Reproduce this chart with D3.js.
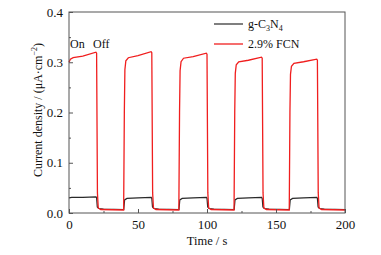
<!DOCTYPE html>
<html>
<head>
<meta charset="utf-8">
<script src="https://cdn.jsdelivr.net/npm/d3@7"></script>
<style>
  body { margin: 0; background: #fff; }
  text { font-family: "Liberation Serif", "Times New Roman", serif; }
</style>
</head>
<body>
<svg id="chart" width="381" height="255"></svg>
<script>
// values: [time (s), current density (uA/cm2)]
var gcnPoints = [
  [0, 0.030], [2, 0.031], [10, 0.031], [19.6, 0.032], [20, 0.030], [20.5, 0.012],
  [21.5, 0.009], [25, 0.008], [39.7, 0.007], [40.3, 0.026], [42, 0.029], [50, 0.030],
  [59.6, 0.031], [60, 0.029], [60.5, 0.012], [61.5, 0.009], [65, 0.008], [79.7, 0.007],
  [80.3, 0.026], [82, 0.029], [90, 0.030], [99.6, 0.031], [100, 0.029], [100.5, 0.012],
  [101.5, 0.009], [105, 0.008], [119.7, 0.007], [120.3, 0.026], [122, 0.029], [130, 0.030],
  [139.6, 0.031], [140, 0.029], [140.5, 0.012], [141.5, 0.009], [145, 0.008], [159.7, 0.007],
  [160.3, 0.026], [162, 0.029], [170, 0.030], [179.6, 0.031], [180, 0.029], [180.5, 0.012],
  [181.5, 0.009], [185, 0.008], [200, 0.007]
];

var fcnPoints = [
  [0, 0.300], [1, 0.306], [3, 0.309], [10, 0.312], [19.5, 0.320], [20, 0.318],
  [20.6, 0.040], [21.2, 0.010], [23, 0.007], [39.6, 0.006], [40.1, 0.200], [40.5, 0.285],
  [41.2, 0.303], [43, 0.309], [50, 0.313], [59.5, 0.321], [60, 0.319], [60.6, 0.040],
  [61.2, 0.010], [63, 0.007], [79.6, 0.006], [80.1, 0.200], [80.5, 0.283], [81.2, 0.301],
  [83, 0.308], [90, 0.311], [99.5, 0.318], [100, 0.316], [100.6, 0.040], [101.2, 0.010],
  [103, 0.007], [119.6, 0.006], [120.1, 0.200], [120.5, 0.278], [121.2, 0.295],
  [123, 0.301], [130, 0.304], [139.5, 0.310], [140, 0.308], [140.6, 0.040], [141.2, 0.010],
  [143, 0.007], [159.6, 0.006], [160.1, 0.200], [160.5, 0.276], [161.2, 0.292],
  [163, 0.298], [170, 0.301], [179.5, 0.306], [180, 0.304], [180.6, 0.040], [181.2, 0.010],
  [183, 0.007], [200, 0.006]
];

var xTicks = [0, 50, 100, 150, 200];
var xMinor = [25, 75, 125, 175];
var yTicks = [0.0, 0.1, 0.2, 0.3, 0.4];
var yMinor = [0.05, 0.15, 0.25, 0.35];

var svg = d3.select("#chart");
var plotLeft = 69, plotRight = 345, plotTop = 12, plotBottom = 213;

var x = d3.scaleLinear().domain([0, 200]).range([plotLeft, plotRight]);
var y = d3.scaleLinear().domain([0, 0.4]).range([plotBottom, plotTop]);

var line = d3.line()
    .x(function(d) { return x(d[0]); })
    .y(function(d) { return y(d[1]); });

// series
svg.append("path")
    .datum(gcnPoints)
    .attr("d", line)
    .attr("fill", "none")
    .attr("stroke", "#2a2a2a")
    .attr("stroke-width", 1.2);

svg.append("path")
    .datum(fcnPoints)
    .attr("d", line)
    .attr("fill", "none")
    .attr("stroke", "#f01e1e")
    .attr("stroke-width", 1.3);

// axes, ticks inward
var frameColor = "#555";

svg.append("g")
    .attr("transform", "translate(0," + plotBottom + ")")
    .call(d3.axisBottom(x).tickValues(xTicks).tickSize(-4).tickPadding(7)
        .tickFormat(d3.format("d")));
svg.append("g")
    .attr("transform", "translate(0," + plotBottom + ")")
    .call(d3.axisBottom(x).tickValues(xMinor).tickSize(-2).tickFormat(""));

svg.append("g")
    .attr("transform", "translate(" + plotLeft + ",0)")
    .call(d3.axisLeft(y).tickValues(yTicks).tickSize(-4).tickPadding(6)
        .tickFormat(d3.format(".1f")));
svg.append("g")
    .attr("transform", "translate(" + plotLeft + ",0)")
    .call(d3.axisLeft(y).tickValues(yMinor).tickSize(-2).tickFormat(""));

svg.selectAll(".domain").remove();
svg.selectAll(".tick line").attr("stroke", frameColor);
svg.selectAll(".tick text")
    .attr("font-size", 13)
    .attr("fill", "#111")
    .style("font-family", "Liberation Serif, serif");

svg.append("rect")
    .attr("x", plotLeft).attr("y", plotTop)
    .attr("width", plotRight - plotLeft).attr("height", plotBottom - plotTop)
    .attr("fill", "none")
    .attr("stroke", frameColor)
    .attr("stroke-width", 1);

// axis titles
svg.append("text")
    .attr("x", (plotLeft + plotRight) / 2)
    .attr("y", 245)
    .attr("text-anchor", "middle")
    .attr("font-size", 12.5)
    .attr("fill", "#111")
    .text("Time / s");

var yTitle = svg.append("text")
    .attr("transform", "translate(42,110) rotate(-90)")
    .attr("text-anchor", "middle")
    .attr("font-size", 12)
    .attr("fill", "#111");
yTitle.append("tspan").text("Current density / (\u03bcA\u00b7cm");
yTitle.append("tspan").attr("dy", -5).attr("font-size", 8).text("\u22122");
yTitle.append("tspan").attr("dy", 5).text(")");

// on / off labels
svg.append("text").attr("x", 70).attr("y", 48).attr("font-size", 12).attr("fill", "#111").text("On");
svg.append("text").attr("x", 93).attr("y", 48).attr("font-size", 12).attr("fill", "#111").text("Off");

// legend
var legend = svg.append("g");
legend.append("line")
    .attr("x1", 214).attr("x2", 243).attr("y1", 24).attr("y2", 24)
    .attr("stroke", "#2a2a2a").attr("stroke-width", 1.2);
legend.append("line")
    .attr("x1", 214).attr("x2", 243).attr("y1", 44).attr("y2", 44)
    .attr("stroke", "#f01e1e").attr("stroke-width", 1.3);

var l1 = legend.append("text").attr("x", 248).attr("y", 28).attr("font-size", 12).attr("fill", "#111");
l1.append("tspan").text("g-C");
l1.append("tspan").attr("dy", 3).attr("font-size", 8).text("3");
l1.append("tspan").attr("dy", -3).text("N");
l1.append("tspan").attr("dy", 3).attr("font-size", 8).text("4");

legend.append("text").attr("x", 248).attr("y", 48).attr("font-size", 12).attr("fill", "#111")
    .text("2.9% FCN");
</script>
</body>
</html>
